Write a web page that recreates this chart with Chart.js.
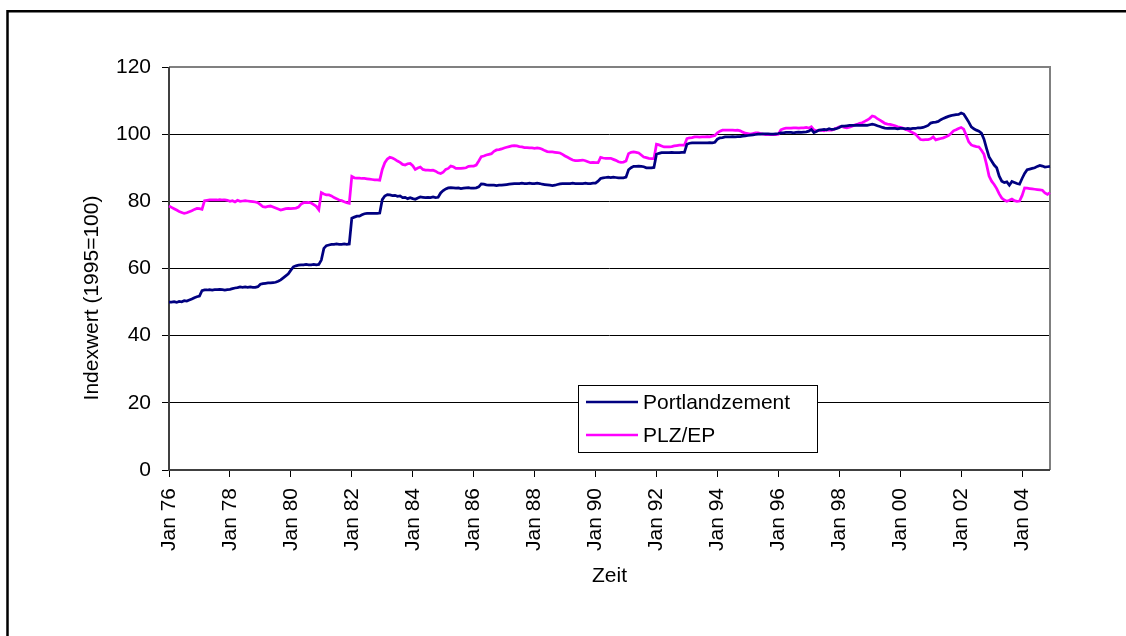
<!DOCTYPE html>
<html>
<head>
<meta charset="utf-8">
<script src="https://cdn.jsdelivr.net/npm/chart.js@4"></script>
<style>
  body { margin: 0; background: #fff; }
  #wrap { width: 1126px; height: 636px; position: relative; }
</style>
</head>
<body>
<div id="wrap"><canvas id="price-chart"></canvas></div>
<script>
// Monthly index values Jan 76 - Dec 04 (1995=100), one row per year
const years = [];
for (let y = 1976; y <= 2004; y++) years.push(y);
const monthNames = ['Jan', 'Feb', 'Mrz', 'Apr', 'Mai', 'Jun', 'Jul', 'Aug', 'Sep', 'Okt', 'Nov', 'Dez'];
const tickLabels = ['Jan 76', 'Jan 78', 'Jan 80', 'Jan 82', 'Jan 84', 'Jan 86', 'Jan 88', 'Jan 90',
  'Jan 92', 'Jan 94', 'Jan 96', 'Jan 98', 'Jan 00', 'Jan 02', 'Jan 04'];
const yTicks = [0, 20, 40, 60, 80, 100, 120];

const portlandzement = [
  50.0, 50.0, 50.1, 49.9, 50.2, 50.1, 50.4, 50.3, 50.6, 50.9, 51.3, 51.6,   // 76
  51.8, 53.4, 53.6, 53.6, 53.7, 53.6, 53.7, 53.7, 53.8, 53.7, 53.6, 53.7,   // 77
  53.8, 54.0, 54.2, 54.3, 54.5, 54.4, 54.5, 54.4, 54.5, 54.4, 54.4, 54.6,   // 78
  55.3, 55.5, 55.6, 55.7, 55.7, 55.8, 55.9, 56.2, 56.6, 57.2, 57.8, 58.4,   // 79
  59.5, 60.5, 60.8, 61.0, 61.1, 61.1, 61.2, 61.1, 61.1, 61.2, 61.1, 61.2,   // 80
  62.5, 66.0, 66.8, 67.0, 67.2, 67.2, 67.3, 67.2, 67.2, 67.3, 67.2, 67.3,   // 81
  75.0, 75.3, 75.6, 75.6, 76.0, 76.3, 76.4, 76.4, 76.4, 76.4, 76.4, 76.5,   // 82
  80.5, 81.6, 82.0, 81.9, 81.7, 81.8, 81.5, 81.6, 81.1, 81.2, 80.8, 81.1,   // 83
  80.8, 80.6, 81.0, 81.3, 81.2, 81.1, 81.2, 81.1, 81.3, 81.1, 81.2, 82.5,   // 84
  83.2, 83.7, 84.0, 84.1, 84.0, 83.9, 84.0, 83.8, 83.9, 84.0, 84.1, 83.9,   // 85
  83.9, 84.0, 84.3, 85.2, 85.1, 84.9, 84.8, 84.8, 84.8, 84.7, 84.8, 84.8,   // 86
  84.9, 85.0, 85.1, 85.2, 85.3, 85.3, 85.3, 85.4, 85.3, 85.3, 85.4, 85.3,   // 87
  85.3, 85.4, 85.3, 85.1, 85.0, 84.9, 84.8, 84.7, 84.8, 85.0, 85.2, 85.3,   // 88
  85.3, 85.3, 85.3, 85.4, 85.3, 85.3, 85.3, 85.3, 85.4, 85.3, 85.3, 85.4,   // 89
  85.4, 86.0, 86.8, 87.0, 87.1, 87.2, 87.1, 87.2, 87.1, 87.0, 87.0, 87.0,   // 90
  87.2, 89.4, 90.0, 90.4, 90.4, 90.5, 90.4, 90.3, 90.0, 90.0, 90.0, 90.1,   // 91
  94.0, 94.3, 94.5, 94.5, 94.5, 94.5, 94.6, 94.5, 94.5, 94.5, 94.6, 94.6,   // 92
  97.0, 97.3, 97.4, 97.4, 97.4, 97.4, 97.4, 97.4, 97.4, 97.5, 97.4, 97.6,   // 93
  98.5, 98.9, 99.0, 99.2, 99.2, 99.2, 99.3, 99.2, 99.3, 99.3, 99.4, 99.5,   // 94
  99.6, 99.7, 99.8, 99.9, 100.0, 100.0, 100.1, 100.1, 100.1, 100.0, 100.0, 100.1, // 95
  100.2, 100.4, 100.4, 100.5, 100.5, 100.5, 100.4, 100.5, 100.6, 100.5, 100.6, 100.7, // 96
  100.9, 101.4, 100.5, 100.8, 101.2, 101.3, 101.4, 101.3, 101.6, 101.4, 101.5, 101.7, // 97
  102.0, 102.4, 102.4, 102.5, 102.6, 102.6, 102.6, 102.7, 102.6, 102.6, 102.7, 102.6, // 98
  102.8, 103.0, 102.8, 102.5, 102.3, 102.0, 101.8, 101.7, 101.8, 101.7, 101.7, 101.6, // 99
  101.7, 101.7, 101.6, 101.7, 101.6, 101.7, 101.7, 101.9, 101.9, 102.0, 102.3, 102.6, // 00
  103.3, 103.5, 103.6, 103.8, 104.3, 104.7, 105.0, 105.3, 105.5, 105.7, 105.8, 105.9, // 01
  106.3, 106.0, 104.8, 103.6, 102.2, 101.6, 101.2, 100.9, 100.3, 98.5, 95.8, 93.2,   // 02
  92.0, 90.8, 90.0, 87.5, 86.0, 85.6, 85.8, 84.8, 85.9, 85.6, 85.3, 85.1,   // 03
  86.8, 88.3, 89.4, 89.6, 89.8, 90.0, 90.4, 90.7, 90.5, 90.2, 90.3, 90.4    // 04
];

const plzEp = [
  78.6, 78.2, 77.8, 77.4, 77.0, 76.7, 76.4, 76.6, 76.9, 77.2, 77.6, 77.9,   // 76
  77.8, 77.6, 80.2, 80.3, 80.4, 80.4, 80.4, 80.4, 80.5, 80.4, 80.4, 80.3,   // 77
  80.0, 80.2, 79.8, 80.3, 80.0, 80.1, 80.2, 80.1, 80.0, 79.9, 79.8, 79.6,   // 78
  79.0, 78.4, 78.3, 78.5, 78.6, 78.3, 78.0, 77.7, 77.4, 77.6, 77.8, 77.9,   // 79
  77.8, 77.9, 78.0, 78.3, 79.2, 79.6, 79.6, 79.7, 79.5, 79.0, 78.5, 77.5,   // 80
  82.6, 82.2, 81.9, 81.9, 81.6, 81.1, 80.8, 80.4, 80.2, 79.9, 79.6, 79.4,   // 81
  87.4, 87.0, 86.9, 86.9, 86.8, 86.8, 86.7, 86.6, 86.5, 86.4, 86.4, 86.3,   // 82
  89.5, 91.5, 92.6, 93.1, 92.9, 92.5, 92.0, 91.6, 91.0, 90.8, 91.2, 91.3,   // 83
  90.6, 89.5, 89.9, 90.2, 89.5, 89.3, 89.3, 89.2, 89.3, 89.0, 88.5, 88.3,   // 84
  88.7, 89.5, 89.8, 90.5, 90.3, 89.8, 89.8, 89.8, 89.9, 90.0, 90.4, 90.5,   // 85
  90.5, 90.8, 92.0, 93.3, 93.5, 93.8, 94.0, 94.2, 94.9, 95.3, 95.4, 95.6,   // 86
  95.9, 96.1, 96.3, 96.5, 96.6, 96.5, 96.3, 96.2, 96.0, 96.0, 95.9, 95.9,   // 87
  95.8, 95.9, 95.8, 95.5, 95.1, 94.8, 94.7, 94.7, 94.6, 94.5, 94.4, 94.0,   // 88
  93.5, 93.1, 92.7, 92.3, 92.1, 92.1, 92.2, 92.3, 92.1, 91.8, 91.5, 91.6,   // 89
  91.5, 91.5, 93.1, 92.9, 92.8, 92.8, 92.8, 92.5, 92.2, 91.8, 91.6, 91.7,   // 90
  92.0, 94.2, 94.6, 94.7, 94.6, 94.4, 93.8, 93.2, 93.0, 92.8, 92.7, 92.7,   // 91
  97.0, 96.8, 96.5, 96.2, 96.2, 96.2, 96.3, 96.5, 96.6, 96.7, 96.7, 96.7,   // 92
  98.7, 98.9, 99.0, 99.2, 99.2, 99.1, 99.2, 99.2, 99.3, 99.2, 99.4, 99.6,   // 93
  100.4, 100.9, 101.2, 101.2, 101.2, 101.2, 101.2, 101.1, 101.2, 101.0, 100.6, 100.3, // 94
  100.2, 100.0, 100.2, 100.4, 100.4, 100.2, 100.0, 99.9, 99.9, 99.9, 99.9, 99.9,   // 95
  100.0, 101.3, 101.6, 101.8, 101.8, 101.8, 101.9, 101.9, 101.8, 101.9, 101.9, 102.0, // 96
  101.8, 102.2, 101.3, 101.0, 101.1, 101.2, 101.0, 101.3, 101.2, 101.2, 101.5, 101.8, // 97
  102.2, 102.3, 102.0, 101.9, 102.1, 102.4, 102.7, 102.9, 103.2, 103.4, 103.8, 104.2, // 98
  104.7, 105.4, 105.2, 104.6, 104.2, 103.7, 103.2, 103.0, 102.9, 102.7, 102.5, 102.2, // 99
  102.0, 101.8, 101.5, 101.2, 100.8, 100.4, 100.0, 99.2, 98.4, 98.3, 98.4, 98.4,   // 00
  98.6, 99.2, 98.3, 98.5, 98.7, 98.9, 99.2, 99.6, 100.2, 101.0, 101.3, 101.7,   // 01
  102.0, 101.5, 99.7, 97.7, 96.8, 96.5, 96.3, 96.2, 95.2, 94.0, 91.0, 87.5,   // 02
  86.0, 85.0, 83.8, 82.2, 81.0, 80.4, 80.0, 80.3, 80.7, 80.2, 80.0, 80.1,   // 03
  81.7, 84.0, 83.9, 83.8, 83.7, 83.6, 83.5, 83.4, 83.3, 82.5, 82.1, 82.6    // 04
];

// Category labels, one per month
const labels = [];
years.forEach(function(y) {
  monthNames.forEach(function(m) {
    labels.push(m + ' ' + String(y).slice(2));
  });
});

const FONT = 'Arial, "Liberation Sans", sans-serif';

// Frame, plot border, axis titles and legend box
const decorPlugin = {
  id: 'decor',
  beforeDatasetsDraw(chart) {
    const ctx = chart.ctx;
    const a = chart.chartArea;
    ctx.save();
    ctx.strokeStyle = '#808080';
    ctx.lineWidth = 2;
    ctx.beginPath();
    ctx.moveTo(a.left, a.top);
    ctx.lineTo(a.right, a.top);
    ctx.lineTo(a.right, a.bottom);
    ctx.stroke();
    ctx.strokeStyle = '#404040';
    ctx.lineWidth = 2;
    ctx.beginPath();
    ctx.moveTo(a.left, a.top);
    ctx.lineTo(a.left, a.bottom);
    ctx.lineTo(a.right, a.bottom);
    ctx.stroke();
    ctx.restore();
  },
  afterDraw(chart) {
    const ctx = chart.ctx;
    const a = chart.chartArea;
    ctx.save();
    // outer frame (runs off the picture at right and bottom)
    ctx.strokeStyle = '#000';
    ctx.lineWidth = 2.5;
    ctx.beginPath();
    ctx.moveTo(7.5, 700);
    ctx.lineTo(7.5, 11.2);
    ctx.lineTo(1200, 11.2);
    ctx.stroke();

    // axis titles
    ctx.fillStyle = '#000';
    ctx.font = '21px ' + FONT;
    ctx.textAlign = 'center';
    ctx.textBaseline = 'middle';
    ctx.fillText('Zeit', (a.left + a.right) / 2, 576);
    ctx.translate(92, 298);
    ctx.rotate(-Math.PI / 2);
    ctx.fillText('Indexwert (1995=100)', 0, 0);
    ctx.setTransform(1, 0, 0, 1, 0, 0);

    // legend
    const lx = 578, ly = 385, lw = 239, lh = 67;
    ctx.fillStyle = '#fff';
    ctx.fillRect(lx, ly, lw, lh);
    ctx.strokeStyle = '#000';
    ctx.lineWidth = 1;
    ctx.strokeRect(lx + 0.5, ly + 0.5, lw, lh);
    chart.data.datasets.forEach(function(ds, i) {
      const rowY = ly + 17 + i * 33;
      ctx.strokeStyle = ds.borderColor;
      ctx.lineWidth = 2.5;
      ctx.beginPath();
      ctx.moveTo(lx + 8, rowY);
      ctx.lineTo(lx + 60, rowY);
      ctx.stroke();
      ctx.fillStyle = '#000';
      ctx.textAlign = 'left';
      ctx.textBaseline = 'middle';
      ctx.font = '21px ' + FONT;
      ctx.fillText(ds.label, lx + 65, rowY + 1);
    });
    ctx.restore();
  }
};

new Chart(document.getElementById('price-chart'), {
  type: 'line',
  data: {
    labels: labels,
    datasets: [
      {
        label: 'Portlandzement',
        data: portlandzement,
        borderColor: '#000080',
        borderWidth: 2.75,
        pointRadius: 0,
        tension: 0,
        fill: false
      },
      {
        label: 'PLZ/EP',
        data: plzEp,
        borderColor: '#ff00ff',
        borderWidth: 2.75,
        pointRadius: 0,
        tension: 0,
        fill: false
      }
    ]
  },
  options: {
    responsive: true,
    maintainAspectRatio: false,
    animation: false,
    layout: { padding: { top: 67, right: 76, left: 0, bottom: 0 } },
    plugins: {
      legend: { display: false },
      tooltip: { enabled: false }
    },
    scales: {
      x: {
        type: 'category',
        offset: false,
        border: { display: false },
        grid: {
          drawOnChartArea: false,
          drawTicks: true,
          tickLength: 7,
          tickColor: '#000',
          tickWidth: 1
        },
        ticks: {
          autoSkip: false,
          minRotation: 90,
          maxRotation: 90,
          padding: 11,
          color: '#000',
          font: { family: FONT, size: 21 },
          callback: function(value) {
            const lab = this.getLabelForValue(value);
            return tickLabels.includes(lab) ? lab : null;
          }
        },
        afterFit: function(scale) { scale.height = 166; }
      },
      y: {
        min: 0,
        max: 120,
        border: { display: false },
        grid: {
          color: function(c) {
            return (c.tick.value === 0 || c.tick.value === 120) ? 'rgba(0,0,0,0)' : '#000';
          },
          lineWidth: 1,
          tickLength: 7,
          tickColor: '#000'
        },
        ticks: {
          stepSize: 20,
          padding: 11,
          color: '#000',
          font: { family: FONT, size: 21 },
          callback: function(value) {
            return yTicks.includes(value) ? String(value) : null;
          }
        },
        afterFit: function(scale) { scale.height = undefined; scale.width = 169; }
      }
    }
  },
  plugins: [decorPlugin]
});
</script>
</body>
</html>
